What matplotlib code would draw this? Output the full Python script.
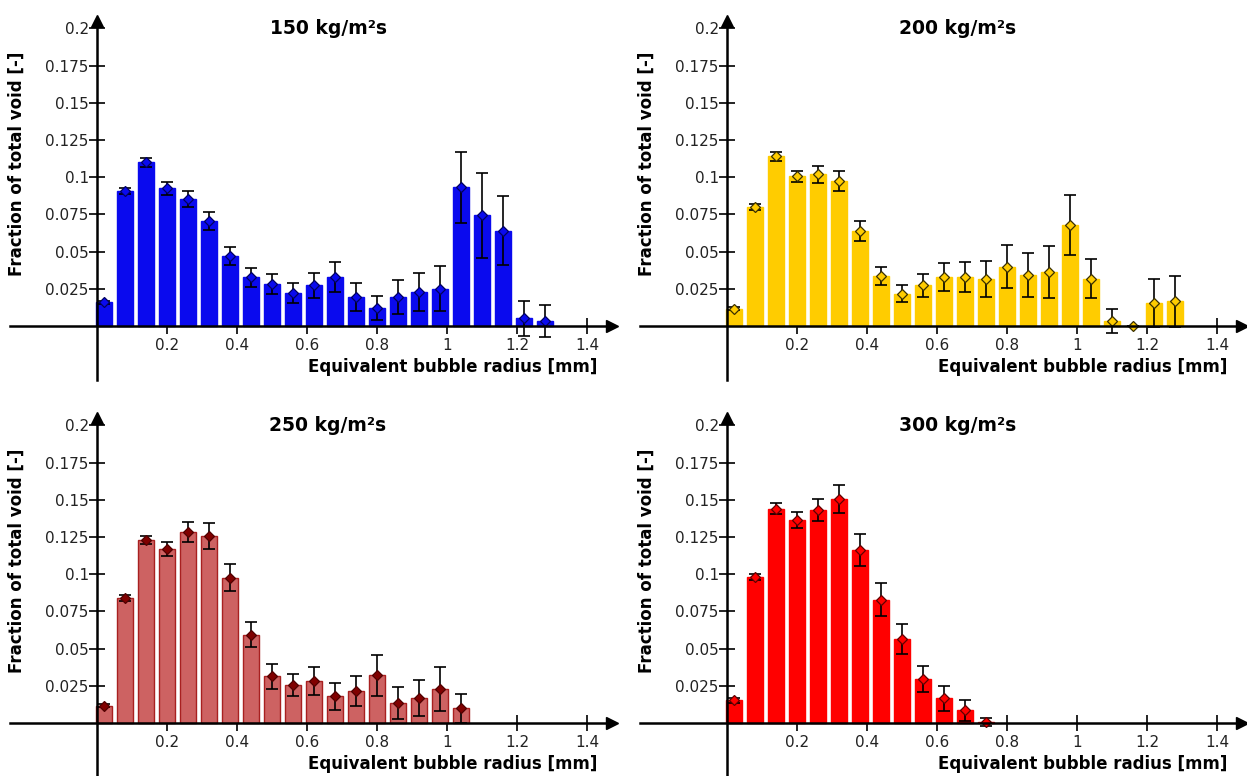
import matplotlib
matplotlib.use("Agg")
import matplotlib.pyplot as plt

# bin centres of the equivalent bubble radius [mm]
radius = [0.02, 0.08, 0.14, 0.20, 0.26, 0.32, 0.38, 0.44, 0.50, 0.56, 0.62,
          0.68, 0.74, 0.80, 0.86, 0.92, 0.98, 1.04, 1.10, 1.16, 1.22, 1.28]

# 150 kg/m2s
frac150 = [0.016, 0.091, 0.110, 0.0925, 0.0853, 0.0704, 0.0469, 0.0328, 0.0284,
           0.0223, 0.0275, 0.033, 0.0194, 0.0123, 0.0194, 0.023, 0.025, 0.0932,
           0.0744, 0.0641, 0.0051, 0.0034]
err150 = [0.001, 0.002, 0.003, 0.0042, 0.0052, 0.006, 0.006, 0.0063, 0.0066,
          0.0068, 0.0084, 0.0101, 0.0092, 0.008, 0.0114, 0.0128, 0.015, 0.024,
          0.0285, 0.023, 0.0117, 0.0106]

# 200 kg/m2s
frac200 = [0.0116, 0.080, 0.114, 0.1005, 0.102, 0.0976, 0.0641, 0.0335, 0.0217,
           0.0273, 0.0328, 0.0328, 0.0317, 0.0398, 0.0342, 0.0362, 0.068, 0.0317,
           0.0031, 0.0003, 0.0156, 0.0165]
err200 = [0.001, 0.002, 0.003, 0.004, 0.0058, 0.0067, 0.0067, 0.0061, 0.0058,
          0.0075, 0.0093, 0.0102, 0.012, 0.0144, 0.0147, 0.0173, 0.020, 0.013,
          0.008, 0.0, 0.016, 0.017]

# 250 kg/m2s
frac250 = [0.0116, 0.0838, 0.123, 0.117, 0.1285, 0.1256, 0.0977, 0.0594, 0.0313,
           0.0253, 0.0284, 0.0179, 0.0215, 0.032, 0.0134, 0.0168, 0.023, 0.0098]
err250 = [0.001, 0.002, 0.003, 0.0045, 0.0067, 0.0085, 0.009, 0.0085, 0.0082,
          0.0073, 0.0094, 0.009, 0.0103, 0.0139, 0.011, 0.012, 0.0147, 0.0098]

# 300 kg/m2s
frac300 = [0.0152, 0.098, 0.144, 0.1366, 0.1429, 0.1505, 0.116, 0.0829, 0.0564,
           0.0296, 0.0168, 0.0085, 0.0007]
err300 = [0.0015, 0.002, 0.0037, 0.0054, 0.0074, 0.0096, 0.0107, 0.011, 0.0103,
          0.009, 0.0084, 0.007, 0.0025]

titles = ["150 kg/m²s", "200 kg/m²s", "250 kg/m²s", "300 kg/m²s"]
ytick_vals = [0.025, 0.05, 0.075, 0.1, 0.125, 0.15, 0.175, 0.2]
ytick_labels = ["0.025", "0.05", "0.075", "0.1", "0.125", "0.15", "0.175", "0.2"]
xtick_vals = [0.2, 0.4, 0.6, 0.8, 1.0, 1.2, 1.4]
xtick_labels = ["0.2", "0.4", "0.6", "0.8", "1", "1.2", "1.4"]

panels = [
    (frac150, err150, "#0a0aee", "#0a0aee", "#0a0aee", "#000060"),
    (frac200, err200, "#ffcc00", "#ffcc00", "#ffcc00", "#3a3000"),
    (frac250, err250, "#cd6262", "#a82020", "#800000", "#500000"),
    (frac300, err300, "#ff0000", "#ff0000", "#ff0000", "#600000"),
]

W, H = 1247, 776
fig = plt.figure(figsize=(W / 100, H / 100), dpi=100)

# pixel origin of each panel (axis crossing), and pixel scale per unit
origins = [(97, 326), (727, 326), (97, 723), (727, 723)]
sx, sy = 350.0, 1488.0
xlim = (-0.25, 1.47)
ylim = (-0.036, 0.205)

for (ox, oy), title, (vals, errs, col, edge, mcol, medge) in zip(origins, titles, panels):
    left = (ox + xlim[0] * sx) / W
    width = (xlim[1] - xlim[0]) * sx / W
    bottom = (H - (oy - ylim[0] * sy)) / H
    height = (ylim[1] - ylim[0]) * sy / H
    ax = fig.add_axes([left, bottom, width, height])
    ax.set_xlim(*xlim)
    ax.set_ylim(*ylim)

    x = radius[:len(vals)]
    ax.bar(x, vals, width=0.045, color=col, edgecolor=edge, linewidth=1.0, zorder=2)
    ax.errorbar(x, vals, yerr=errs, fmt="none", ecolor="black", elinewidth=1.2,
                capsize=4, capthick=1.2, zorder=3)
    ax.plot(x, vals, "D", color=mcol, markeredgecolor=medge, markersize=5,
            markeredgewidth=0.9, linestyle="none", zorder=4)

    for s in ["top", "right"]:
        ax.spines[s].set_visible(False)
    for s in ["left", "bottom"]:
        ax.spines[s].set_position(("data", 0))
        ax.spines[s].set_linewidth(1.8)
        ax.spines[s].set_zorder(5)
    ax.plot(1, 0, ">k", markersize=8, transform=ax.get_yaxis_transform(), clip_on=False, zorder=6)
    ax.plot(0, 1, "^k", markersize=8, transform=ax.get_xaxis_transform(), clip_on=False, zorder=6)

    ax.set_xticks(xtick_vals)
    ax.set_xticklabels(xtick_labels)
    ax.set_yticks(ytick_vals)
    ax.set_yticklabels(ytick_labels)
    ax.tick_params(direction="inout", length=11, width=1.2, labelsize=11,
                   labelcolor="#222222")
    ax.tick_params(axis="x", pad=3)
    ax.tick_params(axis="y", pad=0.5)

    ax.text(0.66, 0.2, title, fontsize=13.5, fontweight="bold", ha="center", va="center")
    ax.text(1.43, -0.0275, "Equivalent bubble radius [mm]", fontsize=12, fontweight="bold",
            ha="right", va="center")
    ax.text(-0.229, 0.109, "Fraction of total void [-]", fontsize=12, fontweight="bold",
            ha="center", va="center", rotation=90)
    ax.patch.set_alpha(0)

fig.savefig("out.png", dpi=100)
